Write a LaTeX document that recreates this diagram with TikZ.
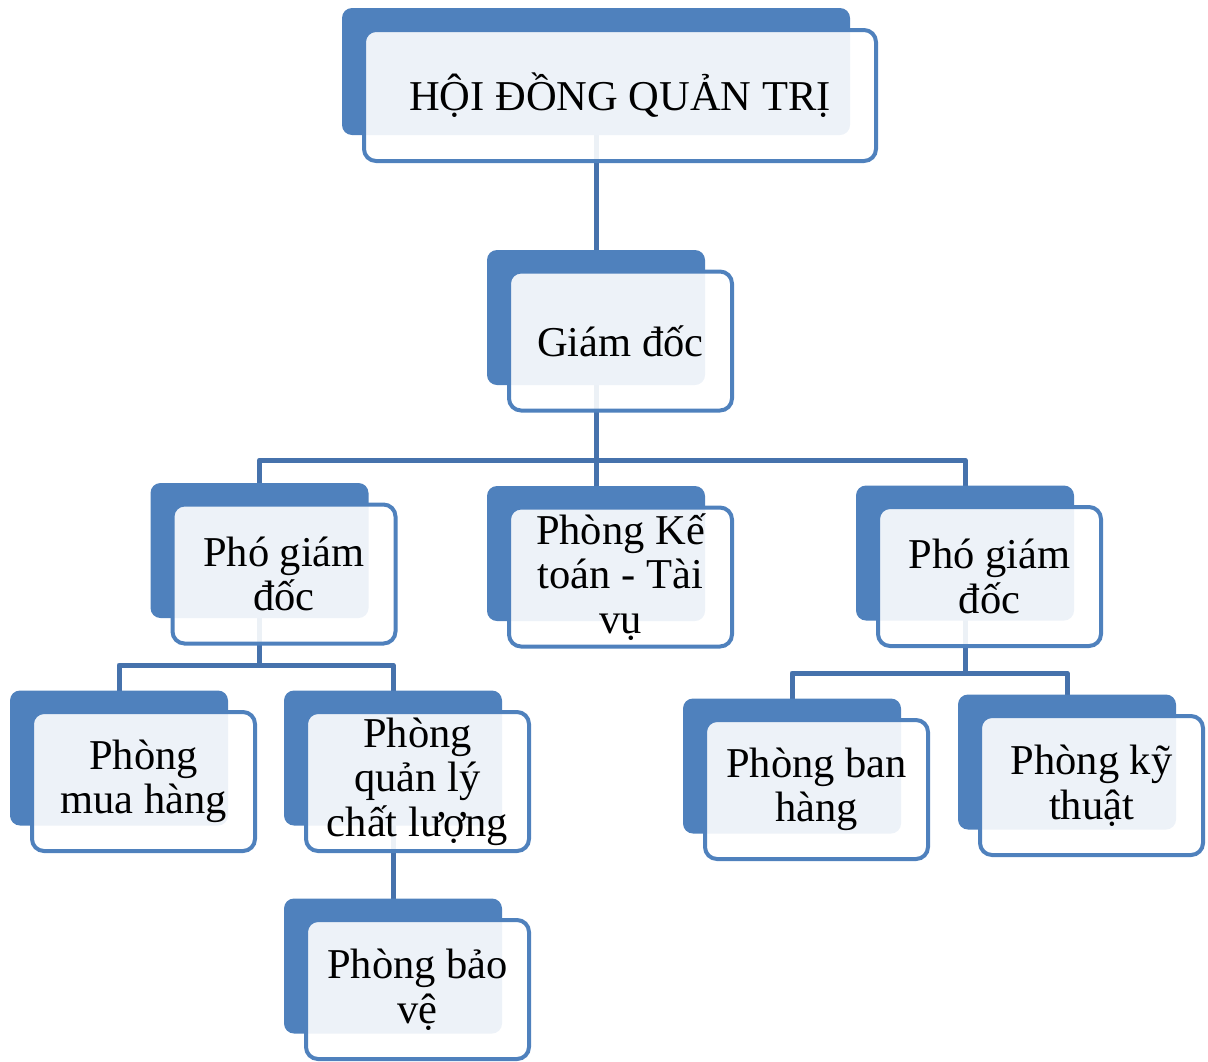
\documentclass[tikz,border=0pt]{standalone}
\usepackage{fontspec}
\setmainfont{Liberation Serif}
\usetikzlibrary{calc}
\definecolor{accent}{HTML}{4F81BD}
\definecolor{linkblue}{HTML}{4672AC}
\pgfdeclarelayer{links}
\pgfsetlayers{links,main}
\tikzset{
  backcard/.style={fill=accent, rounded corners=10pt, minimum width=218pt,
    minimum height=135pt, inner sep=0pt},
  frontcard/.style={draw=accent, line width=4pt, fill=white, fill opacity=0.9,
    text opacity=1, rounded corners=12pt, minimum width=223pt,
    minimum height=139pt, inner sep=0pt, align=center,
    font=\fontsize{42.5}{44.5}\selectfont},
  wideback/.style={minimum width=508pt, minimum height=127pt},
  widefront/.style={minimum width=512pt, minimum height=131pt},
  link/.style={draw=linkblue, line width=5pt, line join=round}
}
% #1 name, #2/#3 centre of the back card, #4 label
\newcommand\orgcard[4]{%
  \node[backcard] (#1-back) at (#2,#3) {};
  \node[frontcard] (#1) at (#2+24.5,#3+23.5) {#4};
}
\begin{document}
\begin{tikzpicture}[x=1pt,y=-1pt]
\useasboundingbox (0,0) rectangle (1208,1061);

% board card, wider than the others
\node[backcard,wideback] (hdqt-back) at (596,71.5) {};
\node[frontcard,widefront] (hdqt) at (620,95.5) {HỘI ĐỒNG QUẢN TRỊ};

\orgcard{gd}{596}{317.5}{Giám đốc}
\orgcard{pgdL}{259.5}{550.5}{Phó giám\\đốc}
\orgcard{kt}{596}{553.5}{Phòng Kế\\toán - Tài\\vụ}
\orgcard{pgdR}{965}{553}{Phó giám\\đốc}
\orgcard{mh}{119}{758}{Phòng\\mua hàng}
\orgcard{ql}{393}{758}{Phòng\\quản lý\\chất lượng}
\orgcard{bv}{393}{966}{Phòng bảo\\vệ}
\orgcard{bh}{792}{766}{Phòng ban\\hàng}
\orgcard{ky}{1067}{762}{Phòng kỹ\\thuật}

\begin{pgfonlayer}{links}
  \draw[link] (hdqt-back.center) -- (gd-back.center);
  \coordinate (busA) at (596,460);
  \draw[link] (gd-back.center) -- (busA);
  \draw[link] (pgdL-back.center) |- (busA);
  \draw[link] (kt-back.center) -- (busA);
  \draw[link] (pgdR-back.center) |- (busA);
  \coordinate (busB) at (259.5,665);
  \draw[link] (pgdL-back.center) -- (busB);
  \draw[link] (mh-back.center) |- (busB);
  \draw[link] (ql-back.center) |- (busB);
  \draw[link] (ql-back.center) -- (bv-back.center);
  \coordinate (busC) at (965,673);
  \draw[link] (pgdR-back.center) -- (busC);
  \draw[link] (bh-back.center) |- (busC);
  \draw[link] (ky-back.center) |- (busC);
\end{pgfonlayer}
\end{tikzpicture}
\end{document}
